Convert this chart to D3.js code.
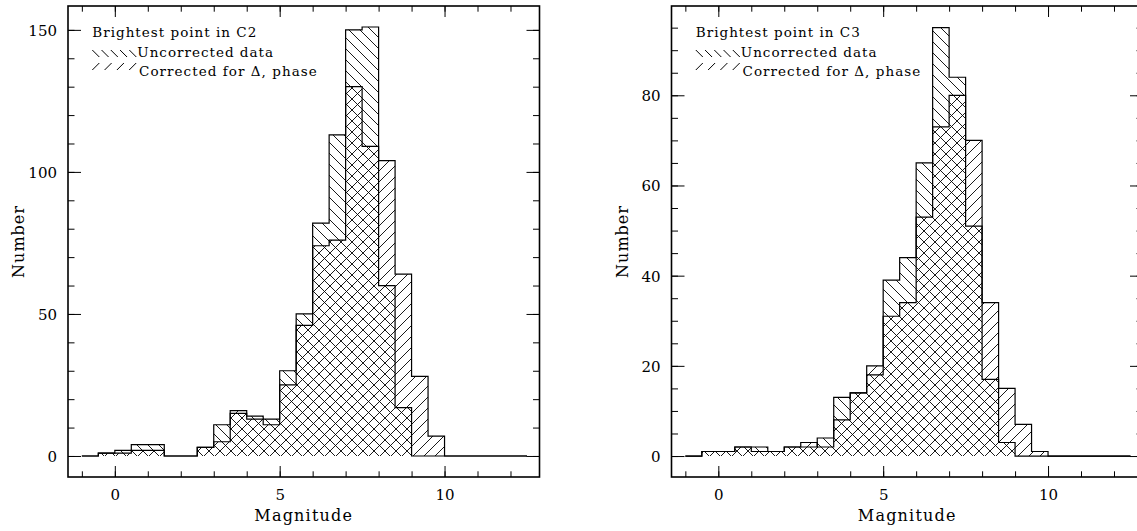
<!DOCTYPE html>
<html>
<head>
<meta charset="utf-8">
<script src="https://cdn.jsdelivr.net/npm/d3@7/dist/d3.min.js"></script>
<style>
  body { margin: 0; background: #fff; }
  svg text { font-family: "DejaVu Serif", serif; fill: #000; }
</style>
</head>
<body>
<svg id="chart" width="1137" height="531"></svg>
<script>
// bins of 0.5 mag, lower edges
const binStarts = [-1.0, -0.5, 0.0, 0.5, 1.0, 1.5, 2.0, 2.5, 3.0, 3.5, 4.0, 4.5, 5.0, 5.5,
                   6.0, 6.5, 7.0, 7.5, 8.0, 8.5, 9.0, 9.5, 10.0, 10.5, 11.0, 11.5, 12.0];
const binWidth = 0.5;

// C2 counts
const c2Uncorrected = [0, 1, 2, 4, 4, 0, 0, 3, 11, 15, 14, 13, 30, 50,
                       82, 113, 150, 151, 60, 17, 0, 0, 0, 0, 0, 0, 0];
const c2Corrected   = [0, 1, 1, 2, 2, 0, 0, 3, 5, 16, 13, 11, 25, 46,
                       74, 76, 130, 109, 104, 64, 28, 7, 0, 0, 0, 0, 0];

// C3 counts
const c3Uncorrected = [0, 1, 1, 2, 2, 1, 2, 2, 4, 13, 14, 18, 39, 44,
                       65, 95, 84, 51, 17, 3, 0, 0, 0, 0, 0, 0, 0];
const c3Corrected   = [0, 1, 1, 2, 1, 1, 2, 3, 2, 8, 14, 20, 31, 34,
                       53, 73, 80, 70, 34, 15, 7, 1, 0, 0, 0, 0, 0];

const xMajorTicks = [0, 5, 10];
const xMinorTicks = [-1, 0, 1, 2, 3, 4, 5, 6, 7, 8, 9, 10, 11, 12];
const c2YMajor = [0, 50, 100, 150];
const c2YMinor = [0, 10, 20, 30, 40, 50, 60, 70, 80, 90, 100, 110, 120, 130, 140, 150];
const c3YMajor = [0, 20, 40, 60, 80];
const c3YMinor = [0, 5, 10, 15, 20, 25, 30, 35, 40, 45, 50, 55, 60, 65, 70, 75, 80, 85, 90, 95];

const legendLabels = ['Uncorrected data', 'Corrected for \u0394, phase'];

const svg = d3.select('#chart');

// hatch patterns
const defs = svg.append('defs');
const H = 11;
defs.append('pattern')
    .attr('id', 'hatchBack')
    .attr('patternUnits', 'userSpaceOnUse')
    .attr('width', H).attr('height', H)
    .append('path')
    .attr('d', `M-1,-1L${H + 1},${H + 1}M-1,${H - 1}L1,${H + 1}M${H - 1},-1L${H + 1},1`)
    .attr('stroke', '#000').attr('stroke-width', 0.9);
defs.append('pattern')
    .attr('id', 'hatchFwd')
    .attr('patternUnits', 'userSpaceOnUse')
    .attr('width', H).attr('height', H)
    .append('path')
    .attr('d', `M-1,${H + 1}L${H + 1},-1M-1,1L1,-1M${H - 1},${H + 1}L${H + 1},${H - 1}`)
    .attr('stroke', '#000').attr('stroke-width', 0.9);

const panels = [
    { left: 68, title: 'Brightest point in C2', unc: c2Uncorrected, cor: c2Corrected,
      yDomain: [-7.4, 158.4], yMajor: c2YMajor, yMinor: c2YMinor },
    { left: 671.5, title: 'Brightest point in C3', unc: c3Uncorrected, cor: c3Corrected,
      yDomain: [-4.65, 99.8], yMajor: c3YMajor, yMinor: c3YMinor }
];

const W = 471.5, TOP = 6, BOTTOM = 477;

function drawPanel(p) {
    const g = svg.append('g');
    const right = p.left + W;

    const x = d3.scaleLinear().domain([-1.42, 12.88]).range([p.left, right]);
    const y = d3.scaleLinear().domain(p.yDomain).range([BOTTOM, TOP]);

    const line = d3.line().x(d => x(d[0])).y(d => y(d[1])).curve(d3.curveStepAfter);
    const last = binStarts.length - 1;
    const stepPath = counts => {
        const pts = [[binStarts[0], 0]];
        counts.forEach((c, i) => pts.push([binStarts[i], c]));
        pts.push([binStarts[last] + binWidth, counts[last]]);
        pts.push([binStarts[last] + binWidth, 0]);
        return line(pts);
    };

    // hatched fills
    g.append('path').attr('d', stepPath(p.cor)).attr('fill', 'url(#hatchFwd)');
    g.append('path').attr('d', stepPath(p.unc)).attr('fill', 'url(#hatchBack)');
    // outlines
    [p.cor, p.unc].forEach(c => {
        g.append('path').attr('d', stepPath(c))
            .attr('fill', 'none').attr('stroke', '#000').attr('stroke-width', 1.2);
    });

    // axes (ticks pointing inward on all four sides)
    const styleAxis = sel => {
        sel.select('.domain').remove();
        sel.selectAll('line').attr('stroke', '#000').attr('stroke-width', 1);
        sel.attr('font-family', null).attr('font-size', null);
    };
    g.append('g').attr('transform', `translate(0,${BOTTOM})`)
        .call(d3.axisBottom(x).tickValues(xMajorTicks).tickSize(-11).tickPadding(23).tickFormat(d3.format('d')))
        .call(styleAxis)
        .selectAll('text').attr('dy', 0).style('font-size', '15px');
    g.append('g').attr('transform', `translate(0,${BOTTOM})`)
        .call(d3.axisBottom(x).tickValues(xMinorTicks).tickSize(-5.7).tickFormat(''))
        .call(styleAxis);
    g.append('g').attr('transform', `translate(0,${TOP})`)
        .call(d3.axisTop(x).tickValues(xMajorTicks).tickSize(-11).tickFormat(''))
        .call(styleAxis);
    g.append('g').attr('transform', `translate(0,${TOP})`)
        .call(d3.axisTop(x).tickValues(xMinorTicks).tickSize(-5.7).tickFormat(''))
        .call(styleAxis);

    g.append('g').attr('transform', `translate(${p.left},0)`)
        .call(d3.axisLeft(y).tickValues(p.yMajor).tickSize(-13).tickPadding(11).tickFormat(d3.format('d')))
        .call(styleAxis)
        .selectAll('text').attr('dy', '0.36em').style('font-size', '15px');
    g.append('g').attr('transform', `translate(${p.left},0)`)
        .call(d3.axisLeft(y).tickValues(p.yMinor).tickSize(-6.5).tickFormat(''))
        .call(styleAxis);
    g.append('g').attr('transform', `translate(${right},0)`)
        .call(d3.axisRight(y).tickValues(p.yMajor).tickSize(-13).tickFormat(''))
        .call(styleAxis);
    g.append('g').attr('transform', `translate(${right},0)`)
        .call(d3.axisRight(y).tickValues(p.yMinor).tickSize(-6.5).tickFormat(''))
        .call(styleAxis);

    // frame
    g.append('rect')
        .attr('x', p.left).attr('y', TOP)
        .attr('width', W).attr('height', BOTTOM - TOP)
        .attr('fill', 'none').attr('stroke', '#000').attr('stroke-width', 1.6);

    // axis titles
    g.append('text')
        .attr('x', (p.left + right) / 2).attr('y', 521)
        .attr('text-anchor', 'middle')
        .style('font-size', '16px').style('letter-spacing', '1.2px')
        .text('Magnitude');
    g.append('text')
        .attr('transform', `translate(${p.left - 44},${(TOP + BOTTOM) / 2}) rotate(-90)`)
        .attr('text-anchor', 'middle')
        .style('font-size', '16px').style('letter-spacing', '1px')
        .text('Number');

    // legend
    const lx = p.left + 24.3;
    g.append('text').attr('x', lx).attr('y', 37)
        .style('font-size', '13.5px')
        .attr('textLength', 164).attr('lengthAdjust', 'spacing')
        .text(p.title);
    for (let i = 0; i < 5; i++) {
        const sx = lx + i * 9.25;
        g.append('line').attr('x1', sx).attr('y1', 50).attr('x2', sx + 7).attr('y2', 57)
            .attr('stroke', '#000').attr('stroke-width', 1);
    }
    for (let i = 0; i < 4; i++) {
        const sx = lx + i * 12.3;
        g.append('line').attr('x1', sx).attr('y1', 70).attr('x2', sx + 7).attr('y2', 63)
            .attr('stroke', '#000').attr('stroke-width', 1);
    }
    g.append('text').attr('x', lx + 45).attr('y', 57)
        .style('font-size', '13.5px')
        .attr('textLength', 135.7).attr('lengthAdjust', 'spacing')
        .text(legendLabels[0]);
    g.append('text').attr('x', lx + 46.7).attr('y', 76)
        .style('font-size', '13.5px')
        .attr('textLength', 177.7).attr('lengthAdjust', 'spacing')
        .text(legendLabels[1]);
}

panels.forEach(drawPanel);
</script>
</body>
</html>
